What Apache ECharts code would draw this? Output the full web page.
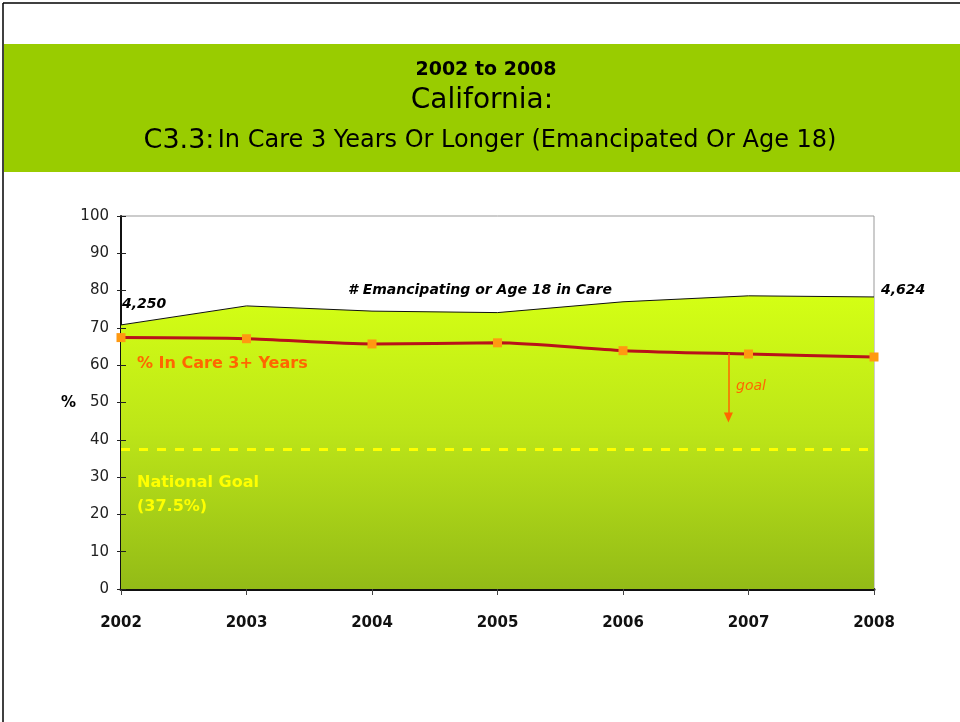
<!DOCTYPE html>
<html lang="en">

<head>
    <meta charset="UTF-8">
    <title>California C3.3</title>
    <style>
        * {
            margin: 0;
            padding: 0;
        }

        .box {
            width: 960px;
            height: 722px;
        }
    </style>
</head>

<body>
    <div class="box" id="main"></div>

    <script src="https://cdn.jsdelivr.net/npm/echarts@6/dist/echarts.min.js"></script>
    <script>
        // data
        var years = [2002, 2003, 2004, 2005, 2006, 2007, 2008];
        var emancipating = [70.8, 75.9, 74.5, 74.1, 77.0, 78.6, 78.3];   // area top, scaled on % axis
        var inCare3Plus = [67.4, 67.1, 65.7, 66.0, 63.9, 63.0, 62.2];
        var countLabels = ['4,250', '4,624'];
        var nationalGoal = 37.5;
        var yTicks = [0, 10, 20, 30, 40, 50, 60, 70, 80, 90, 100];

        var comic = '"DejaVu Sans", sans-serif';
        var myChart = echarts.init(document.getElementById('main'));

        function pairs(vals) {
            return vals.map(function (v, i) {
                return [years[i], v];
            });
        }

        function note(x, y, text, font, color, align) {
            return {
                type: 'text', x: x, y: y, z: 100,
                style: { text: text, fill: color, font: font, textAlign: align || 'left', textVerticalAlign: 'middle' }
            };
        }

        var last = years.length - 1;

        var option = {
            animation: false,
            backgroundColor: '#fff',
            grid: {
                left: 121,
                right: 86,
                top: 216,
                bottom: 133,
                show: true,
                borderColor: '#999',
                borderWidth: 1
            },
            graphic: [
                // slide frame
                { type: 'line', shape: { x1: 3, y1: 3, x2: 960, y2: 3 }, style: { stroke: '#000', lineWidth: 1.5 } },
                { type: 'line', shape: { x1: 3, y1: 3, x2: 3, y2: 722 }, style: { stroke: '#000', lineWidth: 1.5 } },
                // title band
                { type: 'rect', shape: { x: 4, y: 44, width: 956, height: 128 }, style: { fill: '#99cc00' } },
                note(486, 70, '2002 to 2008', 'bold 19px ' + comic, '#000', 'center'),
                note(482, 101, 'California:', '28px ' + comic, '#000', 'center'),
                {
                    type: 'text', x: 490, y: 141, z: 100,
                    style: {
                        text: '{a|C3.3:} {b|In Care 3 Years Or Longer (Emancipated Or Age 18)}',
                        textAlign: 'center', textVerticalAlign: 'middle',
                        rich: {
                            a: { fontSize: 27, fontFamily: comic, color: '#000' },
                            b: { fontSize: 24, fontFamily: comic, color: '#000' }
                        }
                    }
                },
                note(61, 403, '%', 'bold 15px ' + comic, '#000'),
                note(480, 290, '# Emancipating or Age 18 in Care', 'italic bold 14px ' + comic, '#000', 'center'),
                note(137, 364, '% In Care 3+ Years', 'bold 16px ' + comic, '#ff6600'),
                note(736, 386, 'goal', 'italic 14px ' + comic, '#ff6600'),
                note(137, 483, 'National Goal', 'bold 16px ' + comic, '#ffff00'),
                note(137, 507, '(37.5%)', 'bold 16px ' + comic, '#ffff00')
            ],
            xAxis: {
                type: 'value',
                min: 2002,
                max: 2008,
                interval: 1,
                axisLine: { lineStyle: { color: '#111', width: 3 } },
                axisTick: { show: true, length: 6, lineStyle: { color: '#444' } },
                splitLine: { show: false },
                axisLabel: {
                    margin: 27,
                    color: '#111',
                    fontSize: 15,
                    fontWeight: 'bold',
                    fontFamily: '"DejaVu Sans", sans-serif',
                    formatter: function (v) { return String(v); }
                }
            },
            yAxis: [{
                type: 'value',
                min: yTicks[0],
                max: yTicks[yTicks.length - 1],
                interval: 10,
                axisLine: { show: true, lineStyle: { color: '#111', width: 2 } },
                axisTick: { show: true, length: 4, lineStyle: { color: '#222' } },
                splitLine: { show: false },
                axisLabel: {
                    margin: 12,
                    color: '#222',
                    fontSize: 15,
                    fontFamily: '"DejaVu Sans", sans-serif'
                }
            }, {
                // inner half of the ticks that cross the axis
                type: 'value',
                position: 'left',
                z: 10,
                min: yTicks[0],
                max: yTicks[yTicks.length - 1],
                interval: 10,
                axisLine: { show: false },
                axisTick: { show: true, inside: true, length: 5, lineStyle: { color: '#222' } },
                splitLine: { show: false },
                axisLabel: { show: false }
            }],
            series: [{
                name: '# Emancipating or Age 18 in Care',
                type: 'line',
                data: pairs(emancipating),
                symbol: 'none',
                lineStyle: { color: '#111', width: 1 },
                areaStyle: {
                    opacity: 1,
                    color: new echarts.graphic.LinearGradient(0, 0, 0, 1, [
                        { offset: 0, color: '#d4ff14' },
                        { offset: 0.45, color: '#bde618' },
                        { offset: 1, color: '#93bb17' }
                    ])
                },
                markPoint: {
                    silent: true,
                    symbol: 'circle',
                    symbolSize: 0,
                    label: {
                        show: true,
                        position: 'right',
                        color: '#000',
                        fontSize: 14,
                        fontStyle: 'italic',
                        fontWeight: 'bold',
                        fontFamily: comic
                    },
                    data: [
                        { coord: [years[0], emancipating[0]], value: countLabels[0], label: { offset: [-4, -21] } },
                        { coord: [years[last], emancipating[last]], value: countLabels[1], label: { offset: [2, -7] } }
                    ]
                },
                markLine: {
                    silent: true,
                    symbol: 'none',
                    label: { show: false },
                    lineStyle: { color: '#ffff00', type: [9, 9], width: 3 },
                    data: [{ yAxis: nationalGoal }]
                },
                z: 1
            }, {
                name: '% In Care 3+ Years',
                type: 'line',
                data: pairs(inCare3Plus),
                smooth: 0.25,
                symbol: 'rect',
                symbolSize: 9,
                itemStyle: { color: '#ff9911' },
                lineStyle: { color: '#b8121a', width: 3 },
                markLine: {
                    silent: true,
                    symbol: ['none', 'triangle'],
                    symbolSize: [9, 10],
                    label: { show: false },
                    lineStyle: { color: '#ff6600', type: 'solid', width: 1.5 },
                    data: [[{ coord: [2006.84, 63.2] }, { coord: [2006.84, 46] }]]
                },
                z: 3
            }]
        };

        myChart.setOption(option);
    </script>
</body>

</html>
